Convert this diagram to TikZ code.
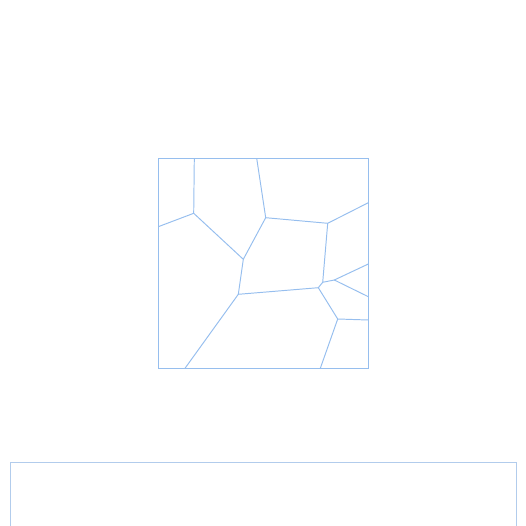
\documentclass[tikz,border=0pt]{standalone}
\definecolor{cellblue}{RGB}{150,190,238}
\definecolor{frameblue}{RGB}{178,204,236}
\begin{document}
\begin{tikzpicture}[x=0.02cm,y=-0.02cm]
            \useasboundingbox (0,0) rectangle (526,526);
            \draw[
                draw = cellblue,
                line width = 0.55pt
            ]
            (158.3,158.3) rectangle (368.3,368.3);
            \draw[-, cellblue, line width=0.55pt] (194.3,158.3) -- (193.7,213.3) -- (243.3,259.3) -- (238.3,294.3) -- (185,368.3);
            \draw[-, cellblue, line width=0.55pt] (158.3,226.7) -- (193.7,213.3);
            \draw[-, cellblue, line width=0.55pt] (256.7,158.3) -- (265.7,217.7) -- (243.3,259.3);
            \draw[-, cellblue, line width=0.55pt] (265.7,217.7) -- (327.7,223.3) -- (368.3,202.7);
            \draw[-, cellblue, line width=0.55pt] (327.7,223.3) -- (322.7,282.3) -- (334.3,280) -- (368.3,264);
            \draw[-, cellblue, line width=0.55pt] (334.3,280) -- (368.3,296.7);
            \draw[-, cellblue, line width=0.55pt] (322.7,282.3) -- (318.3,287.7) -- (238.3,294.3);
            \draw[-, cellblue, line width=0.55pt] (318.3,287.7) -- (337.7,319) -- (368.3,320);
            \draw[-, cellblue, line width=0.55pt] (337.7,319) -- (320.3,368.3);
            \draw[-, frameblue, line width=0.55pt] (10.5,526) -- (10.5,462.7) -- (516,462.7) -- (516,526);
        \end{tikzpicture}
\end{document}
